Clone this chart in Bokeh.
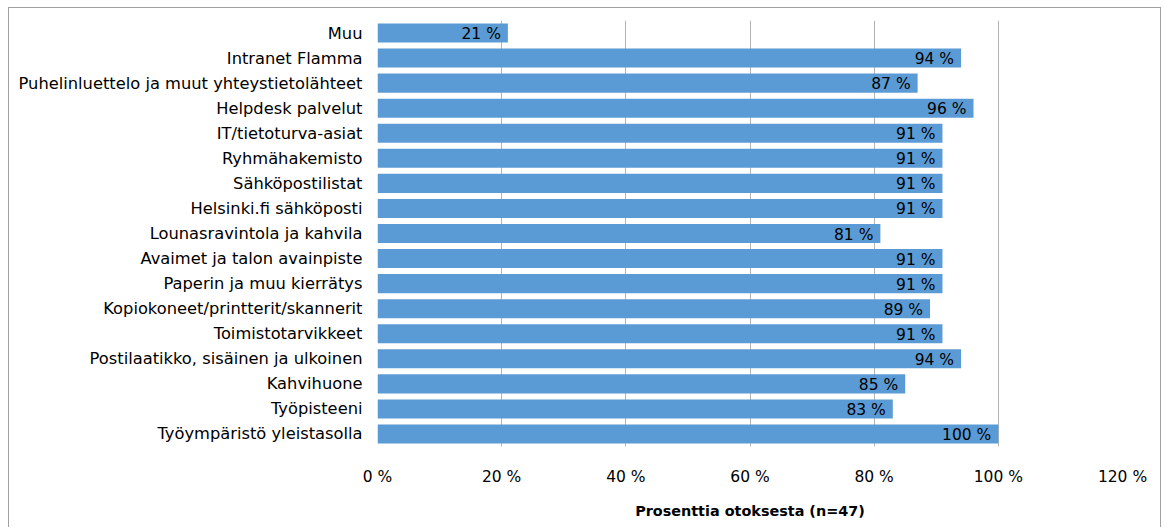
from bokeh.plotting import figure
from bokeh.models import ColumnDataSource, FactorRange, Range1d, FixedTicker
from bokeh.core.properties import value
from bokeh.embed import file_html
from bokeh.resources import INLINE

# Services, listed top to bottom
categories = [
    "Muu",
    "Intranet Flamma",
    "Puhelinluettelo ja muut yhteystietolähteet",
    "Helpdesk palvelut",
    "IT/tietoturva-asiat",
    "Ryhmähakemisto",
    "Sähköpostilistat",
    "Helsinki.fi sähköposti",
    "Lounasravintola ja kahvila",
    "Avaimet ja talon avainpiste",
    "Paperin ja muu kierrätys",
    "Kopiokoneet/printterit/skannerit",
    "Toimistotarvikkeet",
    "Postilaatikko, sisäinen ja ulkoinen",
    "Kahvihuone",
    "Työpisteeni",
    "Työympäristö yleistasolla",
]
# Share of respondents (%)
percent = [21, 94, 87, 96, 91, 91, 91, 91, 81, 91, 91, 89, 91, 94, 85, 83, 100]
x_ticks = [0, 20, 40, 60, 80, 100, 120]
x_title = "Prosenttia otoksesta (n=47)"

FONT = "DejaVu Sans"
BAR = "#5B9BD5"

source = ColumnDataSource(data=dict(
    cat=categories,
    pct=percent,
    lbl=[f"{v} %" for v in percent],
))

p = figure(
    width=1153, height=520,
    y_range=FactorRange(factors=list(reversed(categories))),
    x_range=Range1d(0, 120),
    output_backend="svg", toolbar_location=None,
    min_border_left=368, min_border_right=40,
    min_border_top=12, min_border_bottom=82,
    margin=(7, 0, 0, 8),
    styles={
        "border-top": "1.5px solid #A0A0A0",
        "border-left": "1.5px solid #A0A0A0",
        "border-right": "1.5px solid #A0A0A0",
    },
)
p.background_fill_color = "white"
p.border_fill_color = "white"
p.outline_line_color = None

p.hbar(y="cat", right="pct", left=0, height=0.76, source=source,
       fill_color=BAR, line_color=None)

p.text(x="pct", y="cat", text="lbl", source=source,
       text_align="right", text_baseline="middle", x_offset=-7, y_offset=1,
       text_font=value(FONT), text_font_size="15.5px", text_color="black")

# Grid
p.ygrid.grid_line_color = None
p.xgrid.grid_line_color = "#B4B4B4"
p.xgrid.grid_line_width = 1
p.xgrid.ticker = FixedTicker(ticks=x_ticks)

# X axis
xa = p.xaxis[0]
xa.ticker = FixedTicker(ticks=x_ticks)
xa.major_label_overrides = {t: f"{t} %" for t in x_ticks}
xa.axis_line_color = None
xa.major_tick_line_color = None
xa.minor_tick_line_color = None
xa.major_tick_out = 0
xa.major_tick_in = 0
xa.major_label_standoff = 21
xa.major_label_text_font = FONT
xa.major_label_text_font_size = "15.5px"
xa.major_label_text_color = "black"
xa.axis_label = x_title
xa.axis_label_text_font = FONT
xa.axis_label_text_font_style = "bold"
xa.axis_label_text_font_size = "14.4px"
xa.axis_label_text_color = "black"
xa.axis_label_standoff = 14

# Y axis
ya = p.yaxis[0]
ya.axis_line_color = None
ya.major_tick_line_color = None
ya.minor_tick_line_color = None
ya.major_tick_out = 0
ya.major_tick_in = 0
ya.major_label_standoff = 15
ya.major_label_text_font = FONT
ya.major_label_text_font_size = "16.3px"
ya.major_label_text_color = "black"

open("out.html", "w").write(file_html(p, INLINE))
